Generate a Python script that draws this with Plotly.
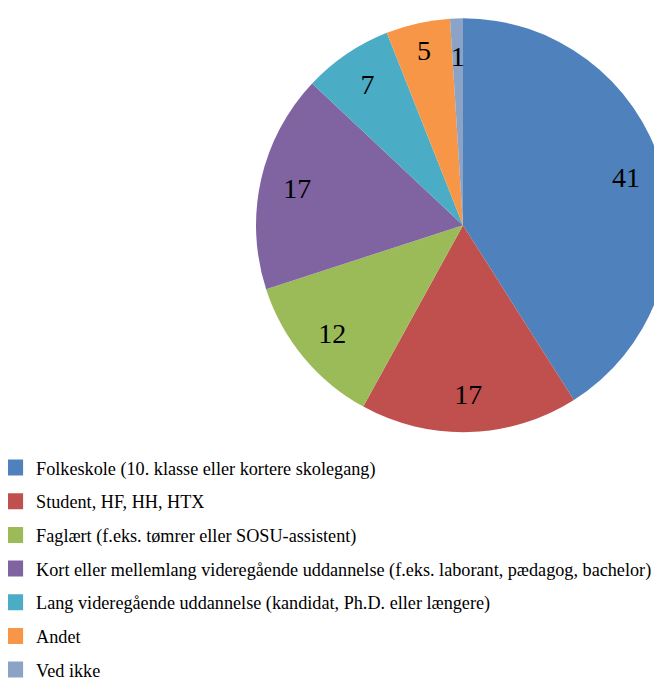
import plotly.graph_objects as go

labels = [
    "Folkeskole (10. klasse eller kortere skolegang)",
    "Student, HF, HH, HTX",
    "Faglært (f.eks. tømrer eller SOSU-assistent)",
    "Kort eller mellemlang videregående uddannelse (f.eks. laborant, pædagog, bachelor)",
    "Lang videregående uddannelse (kandidat, Ph.D. eller længere)",
    "Andet",
    "Ved ikke",
]
values = [41, 17, 12, 17, 7, 5, 1]
colors = ["#4F81BD", "#C0504D", "#9BBB59", "#8064A2", "#4BACC6", "#F79646", "#8AA3C6"]

serif = "Liberation Serif, Times New Roman, serif"
pie_domain = dict(x=[0.3746, 1], y=[0.378, 0.985])
small_domain = dict(x=[0.4245, 0.9502], y=[0.4264, 0.9367])  # same centre, smaller radius

big_txt = [str(v) if v > 2 else "" for v in values]
small_txt = [str(v) if v <= 2 else "" for v in values]
clear = ["rgba(0,0,0,0)"] * len(values)

fig = go.Figure()

# the pie itself
fig.add_trace(go.Pie(
    labels=labels, values=values, sort=False, direction="clockwise", rotation=0,
    marker=dict(colors=colors, line=dict(width=0)),
    textinfo="none", domain=pie_domain, showlegend=False,
    hoverinfo="label+value",
))

# transparent rings on top, only to place the value labels further out
for dom, txt, hole in [(pie_domain, big_txt, 0.64), (small_domain, small_txt, 0.6)]:
    fig.add_trace(go.Pie(
        labels=labels, values=values, sort=False, direction="clockwise", rotation=0,
        hole=hole, text=txt,
        marker=dict(colors=clear, line=dict(width=0)),
        textinfo="text", textposition="inside", insidetextorientation="horizontal",
        textfont=dict(family=serif, size=28, color="black"),
        domain=dom, showlegend=False, hoverinfo="skip",
    ))

# legend entries, one group each so the rows can be spaced out
for lab, col in zip(labels, colors):
    fig.add_trace(go.Scatter(
        x=[None], y=[None], mode="markers", name=lab, legendgroup=lab,
        marker=dict(symbol="square", size=18, color=col),
    ))

fig.update_layout(
    width=662,
    height=682,
    margin=dict(l=0, r=0, t=0, b=0, autoexpand=False),
    paper_bgcolor="white",
    plot_bgcolor="white",
    font=dict(family=serif, color="black"),
    uniformtext=dict(minsize=28, mode="show"),
    xaxis=dict(visible=False),
    yaxis=dict(visible=False),
    legend=dict(
        x=-0.021, y=0.353, xanchor="left", yanchor="top",
        orientation="v",
        traceorder="grouped",
        font=dict(size=18.2, color="black"),
        itemwidth=32,
        tracegroupgap=7,
    ),
)

fig.write_html("out.html")
